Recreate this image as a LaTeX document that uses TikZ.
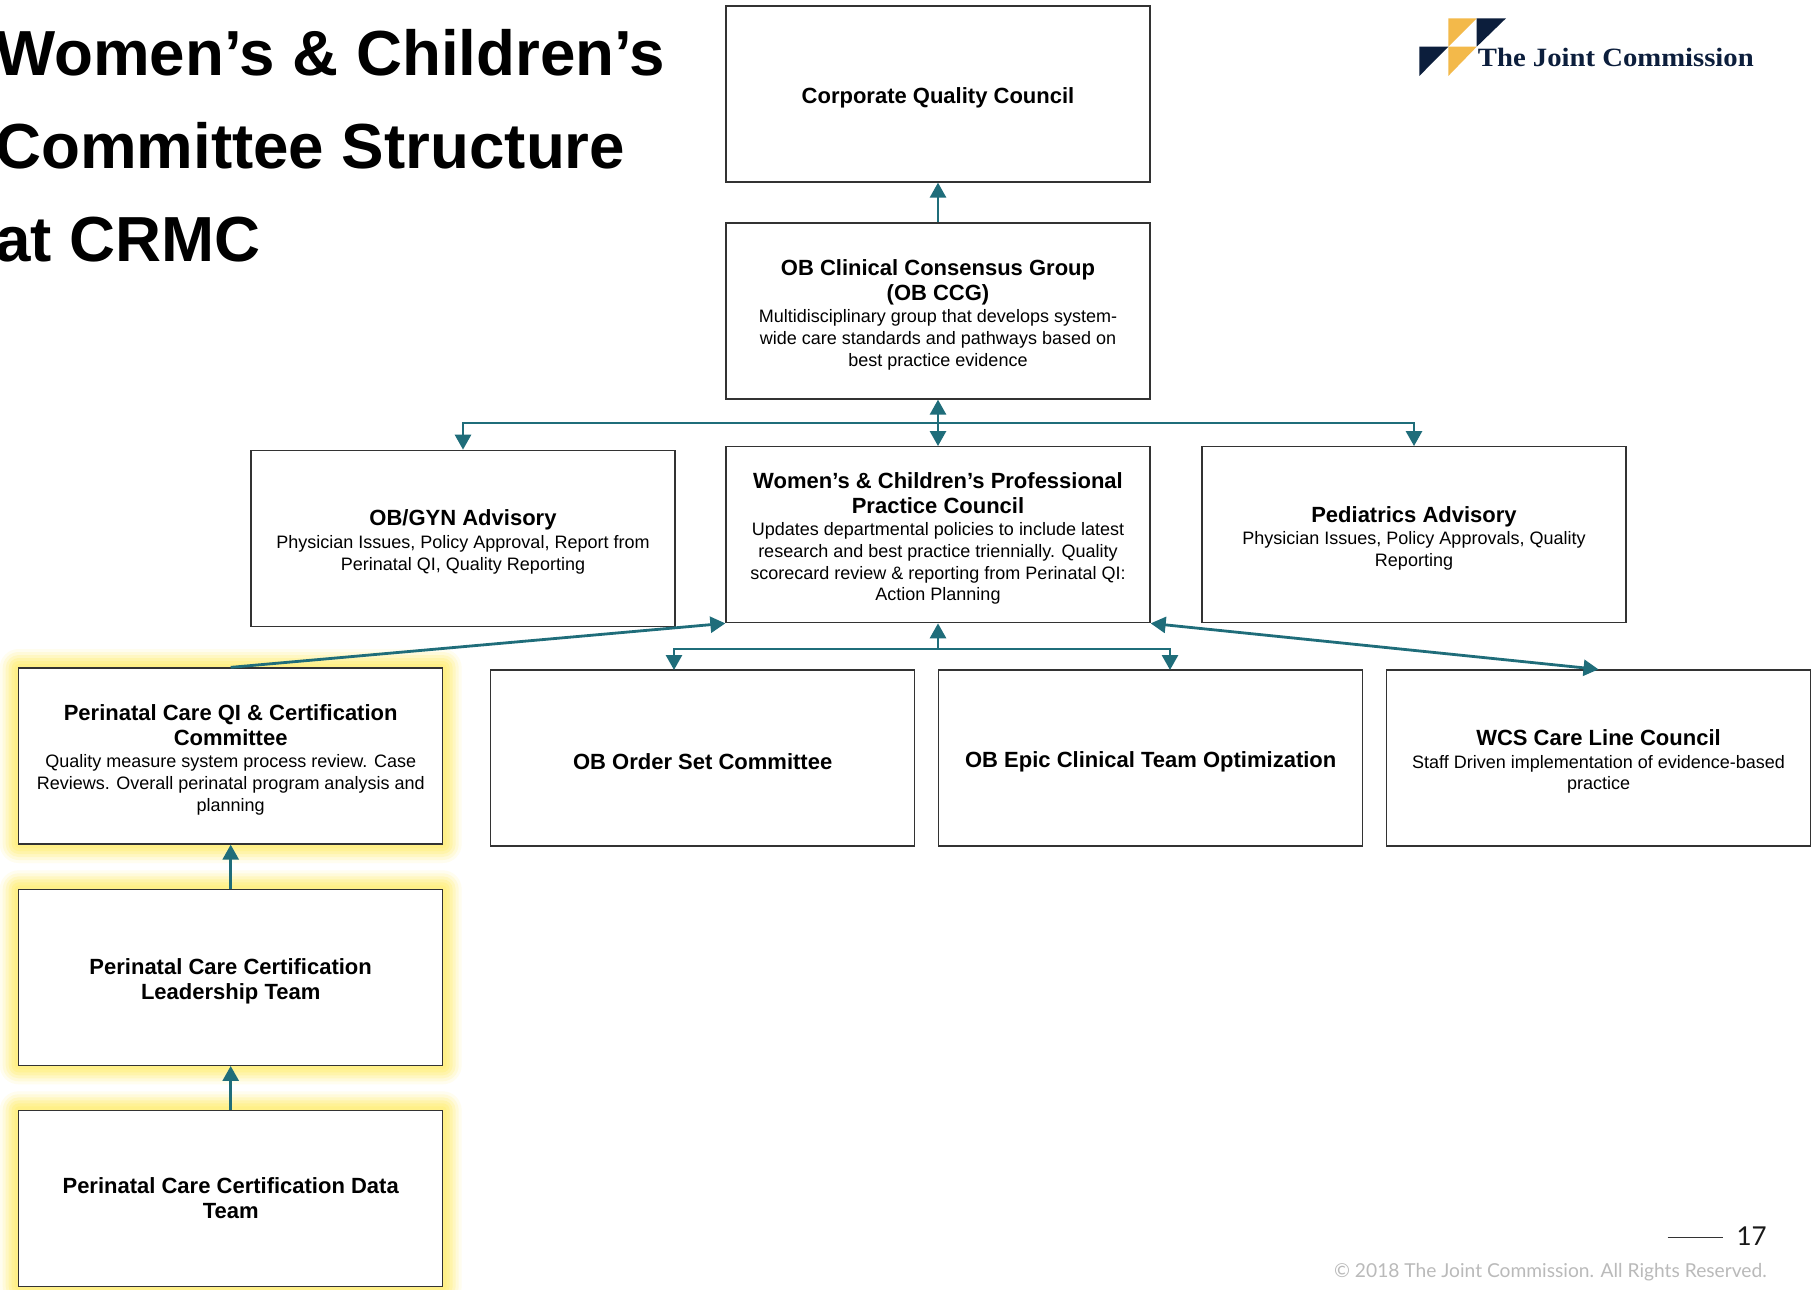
\documentclass[tikz,border=0pt]{standalone}
\usepackage{fontspec}
\setmainfont{Liberation Sans}
\newfontfamily\logofont{Liberation Serif}
\newfontfamily\footfont{Lato}
\usetikzlibrary{arrows.meta}
\definecolor{tealc}{HTML}{1F6D7A}
\definecolor{navy}{HTML}{0C1E3C}
\definecolor{gold}{HTML}{F3B94A}
\definecolor{glowc}{HTML}{FFF07E}
\definecolor{boxline}{HTML}{333333}
\newcommand{\hd}{\fontsize{22}{25}\selectfont\bfseries}
\newcommand{\hf}{\rule{0pt}{23.2pt}\hd}
\newcommand{\ds}{\fontsize{18}{21.7}\selectfont\mdseries}
\newcommand{\tl}{\\[3.3pt]}
\newcommand{\td}{\\[0.8pt]}
\begin{document}
\begin{tikzpicture}[x=1pt,y=-1pt,
  >={Triangle[length=15pt,width=16pt]},
  conn/.style={draw=tealc,line width=2.8pt},
  box/.style={draw=boxline,fill=white,line width=1.3pt,minimum width=424pt,minimum height=176pt,align=center,inner sep=0pt,font=\ds},
  ttl/.style={anchor=base west,inner sep=0pt,font=\fontsize{63.7}{92}\selectfont\bfseries}
]
\clip (0,0) rectangle (1816,1290);
\fill[white] (0,0) rectangle (1816,1290);

% title
\node[ttl] (t1) at (-5,76) {Women’s \& Children’s};
\node[ttl] (t2) at (-5,168) {Committee Structure};
\node[ttl] (t3) at (-5,261) {at CRMC};

% logo
\fill[gold] (1448.3,18.3) -- (1476.7,18.3) -- (1448.3,46.7) -- cycle;
\fill[navy] (1476.7,18.3) -- (1506,18.3) -- (1476.7,46.7) -- cycle;
\fill[navy] (1419.3,46.7) -- (1448.3,46.7) -- (1419.3,76) -- cycle;
\fill[gold] (1448.3,46.7) -- (1476.7,46.7) -- (1448.3,76) -- cycle;
\node[anchor=base west,inner sep=0pt,text=navy,font=\logofont\bfseries\fontsize{26.4}{30}\selectfont] (logo) at (1477.7,66.7) {\scalebox{1.087}[1]{The Joint Commission}};

% glow
\foreach \cy in {756,977.3,1198.3}{
  \foreach \e/\o in {19/0.12,16/0.18,13/0.26,10/0.34,7/0.45,4/0.55}{
    \fill[glowc,opacity=\o,rounded corners=\e pt] (18.7-\e,\cy-88-\e) rectangle (442.7+\e,\cy+88+\e);
  }
}

% boxes
\node[box] (corp) at (938,94) {\hf Corporate Quality Council};
\node[box] (ccg) at (938,311) {\hf OB Clinical Consensus Group\tl\hd (OB CCG)\td Multidisciplinary group that develops system-\\wide care standards and pathways based on\\best practice evidence};
\node[box] (obgyn) at (463,538.3) {\hf OB/GYN Advisory\td Physician Issues, Policy Approval, Report from\\Perinatal QI, Quality Reporting};
\node[box] (wcppc) at (938,534.7) {\hf Women’s \& Children’s Professional\tl\hd Practice Council\td Updates departmental policies to include latest\\research and best practice triennially. Quality\\scorecard review \& reporting from Perinatal QI:\\Action Planning};
\node[box] (peds) at (1414,534.7) {\hf Pediatrics Advisory\td Physician Issues, Policy Approvals, Quality\\Reporting};
\node[box] (qi) at (230.7,756) {\hf Perinatal Care QI \& Certification\tl\hd Committee\td Quality measure system process review. Case\\Reviews. Overall perinatal program analysis and\\planning};
\node[box] (order) at (702.7,758) {\hf OB Order Set Committee};
\node[box] (epic) at (1150.7,758) {\hf OB Epic Clinical Team Optimization};
\node[box] (wcs) at (1598.5,758) {\hf WCS Care Line Council\td Staff Driven implementation of evidence-based\\practice};
\node[box] (lead) at (230.7,977.3) {\hf Perinatal Care Certification\tl\hd Leadership Team};
\node[box] (data) at (230.7,1198.3) {\hd Perinatal Care Certification Data\tl\hd Team};

% connectors
\coordinate (j1) at (938,423);
\coordinate (j2) at (938,649);
\coordinate (oa) at (674,670);
\coordinate (ea) at (1170,670);
\draw[conn,->] (ccg.north) -- (corp.south);
\draw[conn,<->] (ccg.south) -- (wcppc.north);
\draw[conn,->] (j1) -| (obgyn.north);
\draw[conn,->] (j1) -| (peds.north);
\draw[conn,->] (j2) -- (wcppc.south);
\draw[conn,->] (j2) -| (oa);
\draw[conn,->] (j2) -| (ea);
\draw[conn,->] (qi.north) -- (wcppc.south west);
\draw[conn,<->] (wcppc.south east) -- (wcs.north);
\draw[conn,->] (lead.north) -- (qi.south);
\draw[conn,->] (data.north) -- (lead.south);

% footer
\coordinate (fl1) at (1667.7,1237.7);
\coordinate (fl2) at (1722.7,1237.7);
\draw[line width=1.3pt,black!80] (fl1) -- (fl2);
\node[anchor=base east,inner sep=0pt,font=\footfont\fontsize{26}{30}\selectfont,text=black!90] (pg) at (1767,1245.7) {17};
\node[anchor=base east,inner sep=0pt,font=\footfont\fontsize{19.2}{22}\selectfont,text=black!27] (copy) at (1767,1277) {© 2018 The Joint Commission. All Rights Reserved.};
\end{tikzpicture}
\end{document}
